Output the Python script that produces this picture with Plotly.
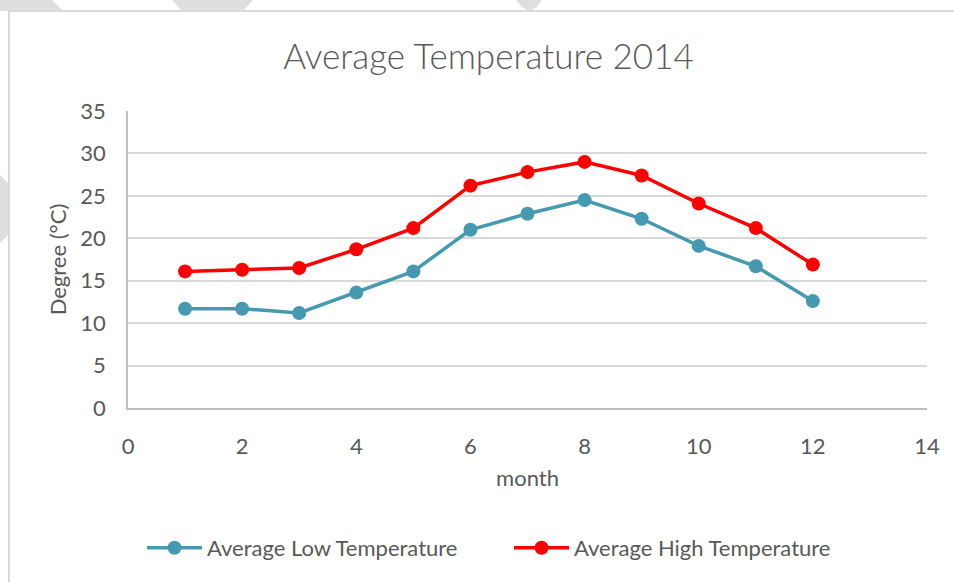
import plotly.graph_objects as go

# Data
months = [1, 2, 3, 4, 5, 6, 7, 8, 9, 10, 11, 12]
low_temp = [11.7, 11.7, 11.2, 13.6, 16.1, 21.0, 22.9, 24.5, 22.3, 19.1, 16.7, 12.6]
high_temp = [16.1, 16.3, 16.5, 18.7, 21.2, 26.2, 27.8, 29.0, 27.4, 24.1, 21.2, 16.9]

FONT = "Lato"
TEXT = "#595959"
LOW_COLOR = "#4599B1"
HIGH_COLOR = "#FF0000"

# plot area in pixels (954x582 canvas)
L, R, T, B = 128, 927, 111, 408


def px(x, y):
    """pixel -> paper coordinates"""
    return (x - L) / (R - L), (B - y) / (B - T)


def poly(points):
    pts = [px(x, y) for x, y in points]
    return "M" + " L".join(f"{a:.4f},{b:.4f}" for a, b in pts) + " Z"


fig = go.Figure()

fig.add_trace(go.Scatter(
    x=months, y=low_temp, name="Average Low Temperature",
    mode="lines+markers",
    line=dict(color=LOW_COLOR, width=3.5),
    marker=dict(color=LOW_COLOR, size=14),
    legend="legend",
))
fig.add_trace(go.Scatter(
    x=months, y=high_temp, name="Average High Temperature",
    mode="lines+markers",
    line=dict(color=HIGH_COLOR, width=3.5),
    marker=dict(color=HIGH_COLOR, size=14),
    legend="legend2",
))

# frame + faint watermark fragments outside it
shapes = []
for pts in [
    [(0, 0), (52, 0), (63, 11), (0, 11)],
    [(172, 0), (253, 0), (243, 11), (182, 11)],
    [(516, 0), (542, 0), (537, 7), (529, 11), (522, 7)],
    [(0, 175), (9, 184), (9, 234), (0, 243)],
]:
    shapes.append(dict(type="path", path=poly(pts), xref="paper", yref="paper",
                       fillcolor="#DEDEDE", line=dict(width=0), layer="below"))
x0, y1 = px(9, 11)
x1, y0 = px(990, 620)
shapes.append(dict(type="rect", xref="paper", yref="paper", x0=x0, x1=x1, y0=y0, y1=y1,
                   line=dict(color="#D9D9D9", width=2), fillcolor="white", layer="below"))

legend_base = dict(orientation="h", xref="paper", xanchor="left",
                   y=px(0, 548)[1], yanchor="middle",
                   font=dict(family=FONT, size=22, color=TEXT),
                   itemwidth=55, bgcolor="rgba(0,0,0,0)")

fig.update_layout(
    width=954, height=582,
    margin=dict(l=L, r=954 - R, t=T, b=582 - B),
    paper_bgcolor="white", plot_bgcolor="white",
    font=dict(family=FONT, size=22, color=TEXT),
    title=dict(text="Average Temperature 2014", xref="paper", x=px(488.5, 0)[0], xanchor="center",
               yref="container", y=1 - 57 / 582, yanchor="middle",
               font=dict(family=FONT, size=35, color=TEXT, weight=300)),
    showlegend=True,
    legend=dict(x=px(142, 0)[0], **legend_base),
    legend2=dict(x=px(509, 0)[0], **legend_base),
    shapes=shapes,
)

fig.update_xaxes(
    range=[0, 14], dtick=2, tick0=0,
    showgrid=False, zeroline=False,
    showline=True, linecolor="#BFBFBF", linewidth=1.5,
    ticks="", ticklabelstandoff=18,
    tickfont=dict(family=FONT, size=22, color=TEXT),
    title=dict(text="month", standoff=12, font=dict(family=FONT, size=22, color=TEXT)),
)
fig.update_yaxes(
    range=[0, 35], dtick=5, tick0=0,
    showgrid=True, gridcolor="#D9D9D9", gridwidth=1.5,
    zeroline=False,
    showline=True, linecolor="#BFBFBF", linewidth=1.5,
    ticks="", ticklabelstandoff=16,
    tickfont=dict(family=FONT, size=22, color=TEXT),
    title=dict(text="Degree (°C)", standoff=8, font=dict(family=FONT, size=22, color=TEXT)),
)

# drop the browser's default body margin so the figure sits at the window corner
fig.write_html("out.html", config={"displayModeBar": False},
               post_script="document.body.style.margin = '0';")
